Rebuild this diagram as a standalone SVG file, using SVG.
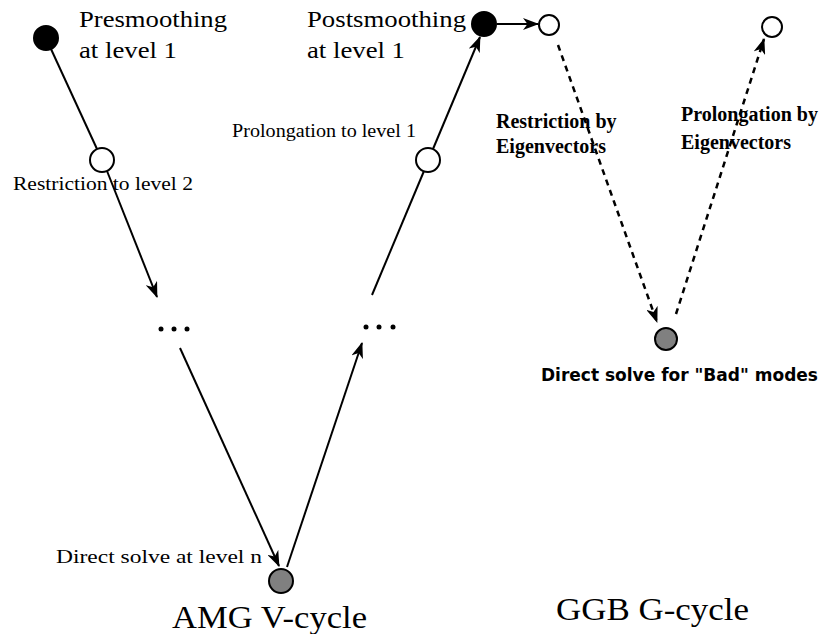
<svg xmlns="http://www.w3.org/2000/svg" width="824" height="634" viewBox="0 0 824 634">
<style>
.cm{font-family:"Liberation Serif","DejaVu Serif",serif;fill:#000}
.tb{font-family:"Liberation Serif",serif;font-weight:bold;fill:#000}
.sb{font-family:"DejaVu Sans","Liberation Sans",sans-serif;font-weight:bold;fill:#000}
.ln{stroke:#000;stroke-width:2;fill:none}
.ds{stroke:#000;stroke-width:2.5;fill:none;stroke-dasharray:6,5}
.nb{fill:#000;stroke:#000;stroke-width:2}
.nw{fill:#fff;stroke:#000;stroke-width:2}
.ng{fill:#808080;stroke:#000;stroke-width:2}
</style>
<defs>
<marker id="ah" viewBox="0 0 16 12" refX="15" refY="6" markerWidth="16" markerHeight="12" markerUnits="userSpaceOnUse" orient="auto">
<path d="M0,0 L16,6 L0,12 L4.5,6 Z" fill="#000"/>
</marker>
</defs>
<g id="connectors">
<line class="ln" x1="51" y1="49" x2="97" y2="149"/>
<line class="ln" x1="107" y1="171" x2="157" y2="297" marker-end="url(#ah)"/>
<line class="ln" x1="180" y1="348" x2="279" y2="566" marker-end="url(#ah)"/>
<line class="ln" x1="287" y1="567" x2="362" y2="343" marker-end="url(#ah)"/>
<line class="ln" x1="372" y1="295" x2="424" y2="171"/>
<line class="ln" x1="433" y1="149" x2="480" y2="37" marker-end="url(#ah)"/>
<line class="ln" x1="497" y1="24" x2="538" y2="24" marker-end="url(#ah)"/>
<line class="ds" x1="558" y1="45" x2="657" y2="322" marker-end="url(#ah)"/>
<line class="ds" x1="676" y1="314" x2="764" y2="39" marker-end="url(#ah)"/>
</g>
<g id="presmooth">
<circle class="nb" cx="46" cy="38" r="12"/>
<text class="cm" x="79" y="27" font-size="24" textLength="148" lengthAdjust="spacingAndGlyphs">Presmoothing</text>
<text class="cm" x="79" y="58" font-size="24" textLength="98" lengthAdjust="spacingAndGlyphs">at level 1</text>
</g>
<g id="restrict">
<circle class="nw" cx="102" cy="160" r="12"/>
<text class="cm" x="13" y="190" font-size="18" textLength="180" lengthAdjust="spacingAndGlyphs">Restriction to level 2</text>
</g>
<g id="dots1">
<circle cx="161" cy="329" r="2.5"/><circle cx="174" cy="329" r="2.5"/><circle cx="187" cy="329" r="2.5"/>
</g>
<g id="direct">
<circle class="ng" cx="281" cy="581" r="12"/>
<text class="cm" x="56" y="563" font-size="18" textLength="206" lengthAdjust="spacingAndGlyphs">Direct solve at level n</text>
</g>
<g id="dots2">
<circle cx="366" cy="327" r="2.5"/><circle cx="379" cy="327" r="2.5"/><circle cx="393" cy="327" r="2.5"/>
</g>
<g id="prolong">
<circle class="nw" cx="428" cy="160" r="12"/>
<text class="cm" x="232" y="137" font-size="18" textLength="184" lengthAdjust="spacingAndGlyphs">Prolongation to level 1</text>
</g>
<g id="postsmooth">
<circle class="nb" cx="484" cy="24" r="12"/>
<text class="cm" x="307" y="27" font-size="24" textLength="159" lengthAdjust="spacingAndGlyphs">Postsmoothing</text>
<text class="cm" x="307" y="58" font-size="24" textLength="98" lengthAdjust="spacingAndGlyphs">at level 1</text>
</g>
<g id="ggb-start">
<circle class="nw" cx="549" cy="25" r="10"/>
<text class="tb" x="496" y="128" font-size="20">Restriction by</text>
<text class="tb" x="496" y="153" font-size="20">Eigenvectors</text>
</g>
<g id="ggb-solve">
<circle class="ng" cx="666" cy="339" r="11"/>
<text class="sb" x="541" y="381" font-size="17">Direct solve for "Bad" modes</text>
</g>
<g id="ggb-end">
<circle class="nw" cx="772" cy="27" r="10"/>
<text class="tb" x="681" y="121" font-size="20">Prolongation by</text>
<text class="tb" x="681" y="149" font-size="20">Eigenvectors</text>
</g>
<text class="cm" x="172" y="628" font-size="31" textLength="195" lengthAdjust="spacingAndGlyphs">AMG V-cycle</text>
<text class="cm" x="556" y="620" font-size="31" textLength="193" lengthAdjust="spacingAndGlyphs">GGB G-cycle</text>
</svg>
